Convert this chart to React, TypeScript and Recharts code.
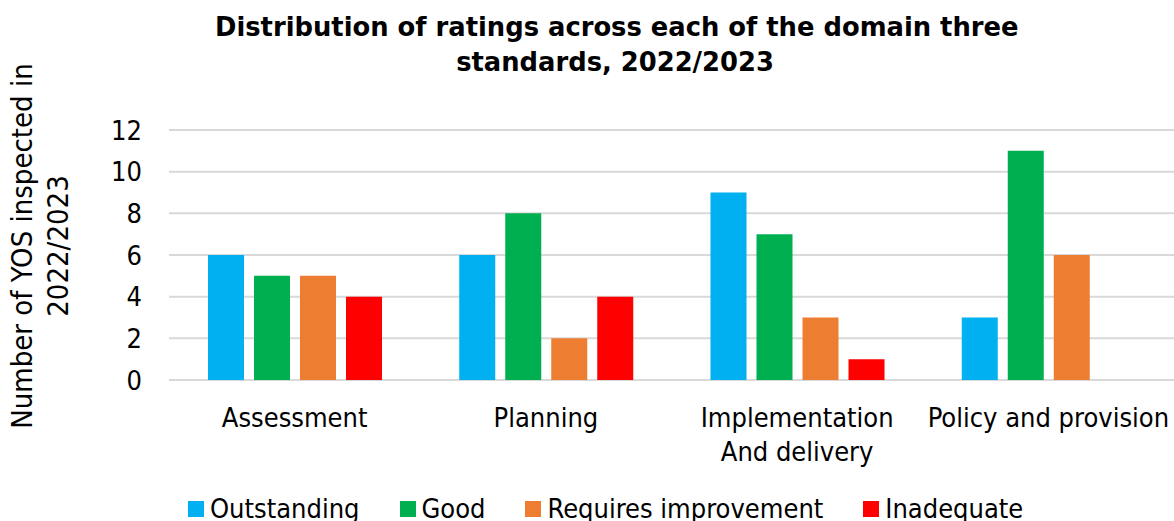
import { Bar, BarChart, CartesianGrid, Legend, XAxis, YAxis } from "recharts";

const CATEGORIES = ["Assessment", "Planning", "Implementation\nAnd delivery", "Policy and provision"];
const OUTSTANDING = [6, 6, 9, 3];
const GOOD = [5, 8, 7, 11];
const REQUIRES_IMPROVEMENT = [5, 2, 3, 6];
const INADEQUATE = [4, 4, 1, 0];
const Y_TICKS = [0, 2, 4, 6, 8, 10, 12];

const SERIES = [
  { key: "outstanding", name: "Outstanding" },
  { key: "good", name: "Good" },
  { key: "requires", name: "Requires improvement" },
  { key: "inadequate", name: "Inadequate" },
];
const COLORS: Record<string, string> = {
  outstanding: "#00B0F0",
  good: "#00B050",
  requires: "#ED7D31",
  inadequate: "#FF0000",
};

const FONT = "'DejaVu Sans Condensed', 'DejaVu Sans', sans-serif";
const FS = 27;
const GRID = "#d9d9d9";

const data = CATEGORIES.map((name, i) => ({
  name,
  outstanding: OUTSTANDING[i],
  good: GOOD[i],
  requires: REQUIRES_IMPROVEMENT[i],
  inadequate: INADEQUATE[i],
}));

function CategoryTick({ x, y, payload }: any) {
  const lines = String(payload.value).split("\n");
  return (
    <text x={x} y={y} textAnchor="middle" fill="#000" fontSize={FS} fontFamily={FONT} style={{ fontStretch: "condensed" }}>
      {lines.map((l, i) => (
        <tspan key={i} x={x} dy={i === 0 ? "0.71em" : 34}>
          {l}
        </tspan>
      ))}
    </text>
  );
}

function YLabel() {
  return (
    <g fontFamily={FONT} fontSize={29} fill="#000" style={{ fontStretch: "condensed" }}>
      <text x={22} y={246} transform="rotate(-90 22 246)" textAnchor="middle" dominantBaseline="central">
        Number of YOS inspected in
      </text>
      <text x={58} y={246} transform="rotate(-90 58 246)" textAnchor="middle" dominantBaseline="central">
        2022/2023
      </text>
    </g>
  );
}

function LegendContent() {
  return (
    <div
      style={{
        display: "flex",
        gap: 40,
        paddingLeft: 188,
        height: 27,
        alignItems: "center",
        fontFamily: FONT,
        fontStretch: "condensed",
        fontSize: FS,
        lineHeight: "27px",
        color: "#000",
        whiteSpace: "nowrap",
      }}
    >
      {SERIES.map((s) => (
        <div key={s.key} style={{ display: "flex", alignItems: "center" }}>
          <span style={{ width: 16, height: 16, background: COLORS[s.key], marginRight: 6, display: "inline-block" }} />
          {s.name}
        </div>
      ))}
    </div>
  );
}

export default function App() {
  return (
    <div style={{ position: "absolute", left: 0, top: 0, width: 1174, height: 521, background: "#fff", overflow: "hidden" }}>
      <div
        style={{
          position: "absolute",
          left: 215,
          top: 10,
          width: 800,
          textAlign: "center",
          fontFamily: "'DejaVu Sans', sans-serif",
          fontWeight: "bold",
          fontSize: 25.8,
          lineHeight: "35px",
          color: "#000",
          zIndex: 1,
          whiteSpace: "nowrap",
        }}
      >
        Distribution of ratings across each of the domain three
        <br />
        standards, 2022/2023
      </div>
      <BarChart
        width={1174}
        height={521}
        data={data}
        margin={{ top: 130, right: 0, bottom: 54, left: 0 }}
        barGap={10}
        barSize={36}
      >
        <CartesianGrid vertical={false} stroke={GRID} strokeWidth={2} />
        <XAxis
          dataKey="name"
          interval={0}
          axisLine={false}
          tickLine={false}
          tickSize={0}
          tickMargin={28}
          height={60}
          tick={<CategoryTick />}
        />
        <YAxis
          domain={[0, 12]}
          ticks={Y_TICKS}
          width={169}
          axisLine={false}
          tickLine={false}
          tickSize={0}
          tickMargin={27}
          tick={{ fill: "#000", fontSize: FS, fontFamily: FONT, style: { fontStretch: "condensed" } }}
          label={{ content: () => <YLabel /> }}
        />
        <Legend content={() => <LegendContent />} wrapperStyle={{ top: 495, left: 0 }} />
        {SERIES.map((s) => (
          <Bar key={s.key} dataKey={s.key} name={s.name} fill={COLORS[s.key]} isAnimationActive={false} />
        ))}
      </BarChart>
    </div>
  );
}
